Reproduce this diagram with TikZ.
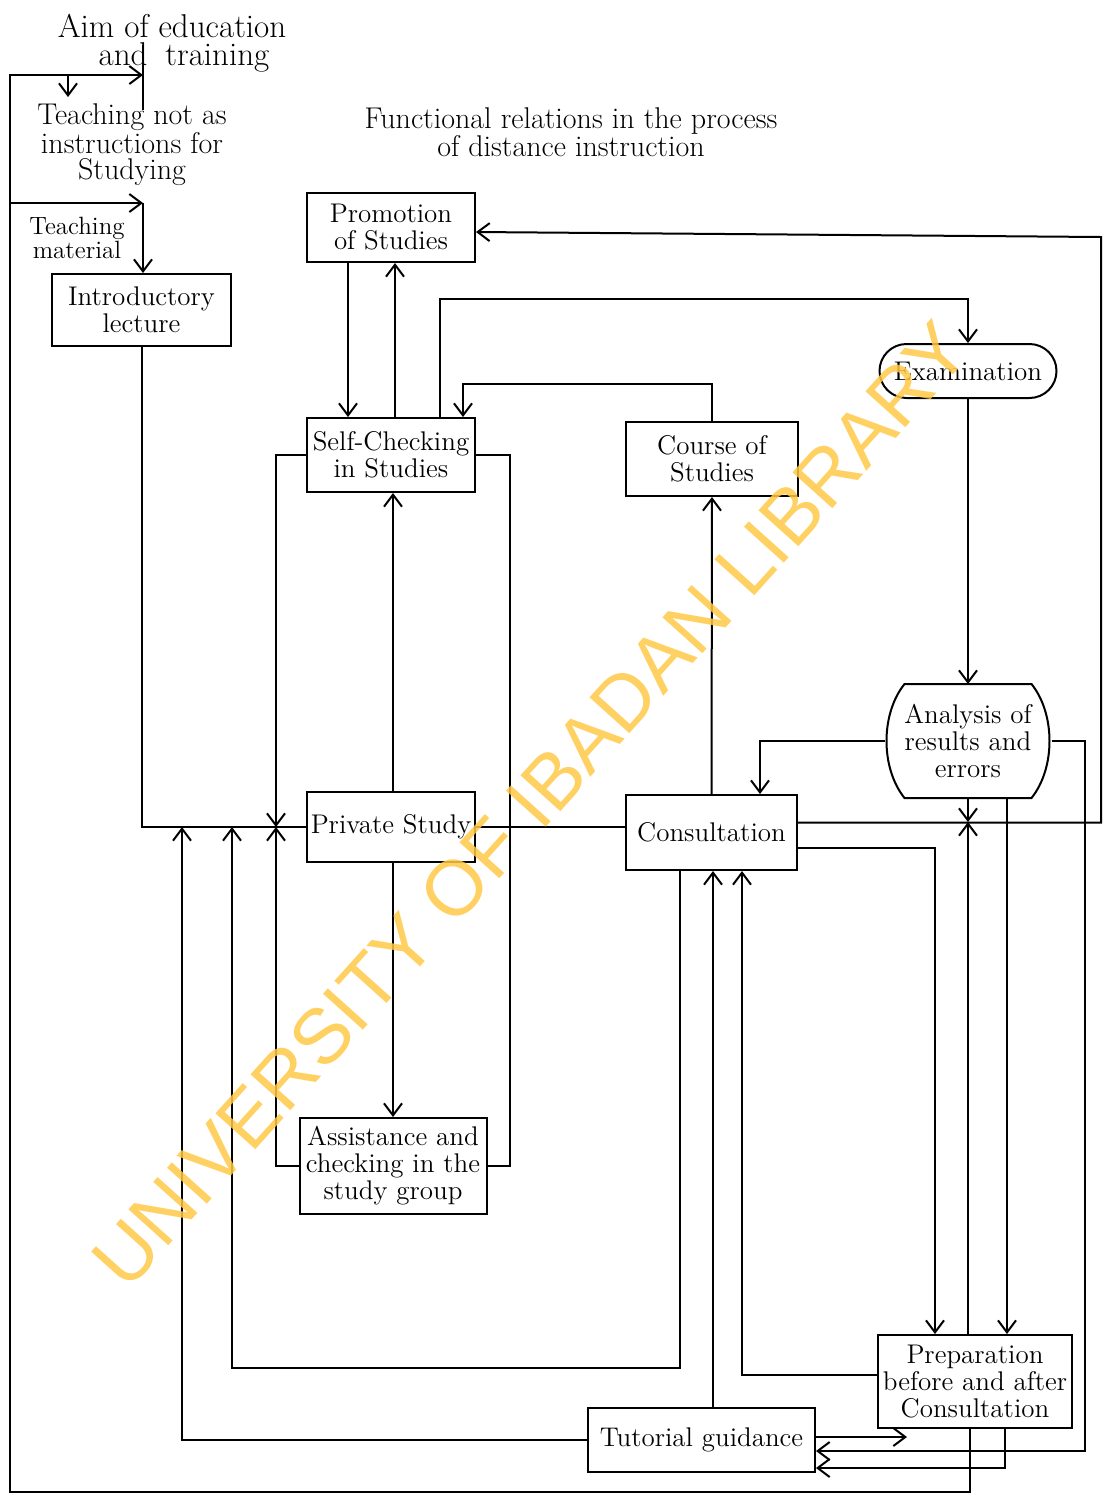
\documentclass[tikz,border=0pt]{standalone}
\usepackage{fontspec}
\usepackage{xcolor}
\usepackage{tikz}
\usetikzlibrary{arrows.meta,calc,shapes.misc}
\newfontfamily\wmfont{Liberation Sans}
\definecolor{wmark}{RGB}{255,200,70}

\begin{document}
\begin{tikzpicture}[x=0.5pt,y=-0.5pt,line width=1pt,>={Straight Barb[length=6pt,width=9pt]},
  box/.style={draw,align=center,inner sep=2pt,font=\fontsize{13.5}{13.5}\selectfont},
  note/.style={align=center,inner sep=0pt}]
\useasboundingbox (0,0) rectangle (1104,1501);
% texts at the top
\node[note,font=\fontsize{16.5}{14}\selectfont] (aim) at (172,43) {Aim of education\\\hspace*{12pt}and\hspace{9pt}training};
\node[note,font=\fontsize{15}{13}\selectfont] (teach) at (132,145) {Teaching not as\\instructions for\\Studying};
\node[note,font=\fontsize{12.5}{11}\selectfont] (mat) at (77,238) {Teaching\\material};
\node[note,font=\fontsize{15}{14}\selectfont] (title) at (571,132) {Functional relations in the process\\of distance instruction};
% boxes
\node[box,minimum width=84pt,minimum height=34.5pt] (promo) at (391,227.5) {Promotion\\of Studies};
\node[box,minimum width=89.5pt,minimum height=36pt] (intro) at (141.5,310) {Introductory\\lecture};
\node[box,minimum width=84pt,minimum height=37pt] (selfchk) at (391,455) {Self-Checking\\in Studies};
\node[box,minimum width=86pt,minimum height=37pt] (course) at (712,459) {Course of\\Studies};
\node[box,rounded rectangle,minimum width=92.5pt,minimum height=27pt] (exam) at (968,371) {Examination};
\node[box,draw=none,minimum width=82.5pt,minimum height=56pt] (anal) at (968,741) {Analysis of\\results and\\errors};
\node[box,minimum width=84pt,minimum height=35pt] (private) at (391,827) {Private Study};
\node[box,minimum width=85.5pt,minimum height=37.5pt] (consult) at (711.5,832.5) {Consultation};
\node[box,minimum width=93.5pt,minimum height=48pt] (assist) at (393,1166) {Assistance and\\checking in the\\study group};
\node[box,minimum width=97pt,minimum height=46.5pt] (prep) at (975,1381.5) {Preparation\\before and after\\Consultation};
\node[box,minimum width=113.5pt,minimum height=32pt] (tutor) at (701.5,1440) {Tutorial guidance};
% barrel outline of the analysis box
\draw ([xshift=10pt]anal.north west) -- ([xshift=-10pt]anal.north east)
  .. controls ([xshift=2pt,yshift=-15pt]anal.north east) and ([xshift=2pt,yshift=15pt]anal.south east) .. ([xshift=-10pt]anal.south east)
  -- ([xshift=10pt]anal.south west)
  .. controls ([xshift=-2pt,yshift=15pt]anal.south west) and ([xshift=-2pt,yshift=-15pt]anal.north west) .. cycle;
% points on the lines
\coordinate (aimtop) at (143,45);
\coordinate (aimbot) at (143,110);
\coordinate (aimin) at (143,75);
\coordinate (matin) at (143,203);
\coordinate (teachin) at (68,97);
\coordinate (rail) at (10,1492);
\coordinate (rtop) at (1101,237);
\coordinate (cline) at (968,822);
\coordinate (ranal) at (1085,1451);
\coordinate (tprep) at (907,1437);
\coordinate (j1) at (182,827);
\coordinate (j2) at (232,827);
\coordinate (j3) at (276,827);
\coordinate (k2) at (232,1368);
% left side
\draw (aimtop) -- (aimbot);
\draw[->] (teachin |- aimin) -- (teachin);
\draw[->] ([xshift=-2.5pt]prep.south) |- (rail) |- (aimin);
\draw[->] (rail |- matin) -- (matin);
\draw[->] (matin) -- (matin |- intro.north);
\draw (intro.south) |- (private.west);
\draw[->] (tutor.west) -| (j1);
\draw[->] ([xshift=-15.75pt]consult.south) |- (k2) -- (j2);
\draw[->] (selfchk.west) -| (j3);
\draw[->] (assist.west) -| (j3);
\draw (selfchk.east) -- ++(34,0) |- (assist.east);
% middle column
\draw[->] ([xshift=-21.5pt]promo.south) -- ([xshift=-21.5pt]selfchk.north);
\draw[->] ([xshift=2pt]selfchk.north) -- ([xshift=2pt]promo.south);
\draw[->] ([xshift=1pt]private.north) -- ([xshift=1pt]selfchk.south);
\draw[->] ([xshift=1pt]private.south) -- (assist.north);
\draw (private.east) -- (private.east -| consult.west);
\draw[->] ([xshift=24.5pt]selfchk.north) -- ++(0,-118) -| (exam.north);
\draw[->] (course.north) -- ++(0,-37) -| ([xshift=36pt]selfchk.north);
\draw[->] (consult.north) -- (course.south);
\draw[->] ([xshift=5.75pt]tutor.north) -- ([xshift=5.75pt]tutor.north |- consult.south);
\draw[->] ([yshift=3.25pt]prep.west) -| ([xshift=15.25pt]consult.south);
% right side
\draw[->] ([yshift=5pt]consult.east) -| (rtop) -- ([yshift=-2.25pt]promo.east);
\draw[->] (exam.south) -- (anal.north);
\draw[->] (anal.west) -| ([xshift=24.25pt]consult.north);
\draw[->] (anal.east) -| (ranal) -- (tutor.east |- ranal);
\draw[->] (anal.south) -- (cline);
\draw[->] ([xshift=-3.5pt]prep.north) -- ([xshift=-3.5pt]prep.north |- cline);
\draw[->] ([xshift=19.5pt]anal.south) -- ([xshift=16pt]prep.north);
\draw[->] ([yshift=-7.75pt]consult.east) -| ([xshift=-20pt]prep.north);
\draw[->] ([xshift=15pt]prep.south) |- ([yshift=-14pt]tutor.east);
\draw[->] ([yshift=1.5pt]tutor.east) -- (tprep);
% watermark
\node[rotate=48,text=wmark,text opacity=0.85,font=\wmfont\fontsize{39}{39}\selectfont] (wm) at (530,805) {UNIVERSITY OF IBADAN LIBRARY};
\end{tikzpicture}
\end{document}
